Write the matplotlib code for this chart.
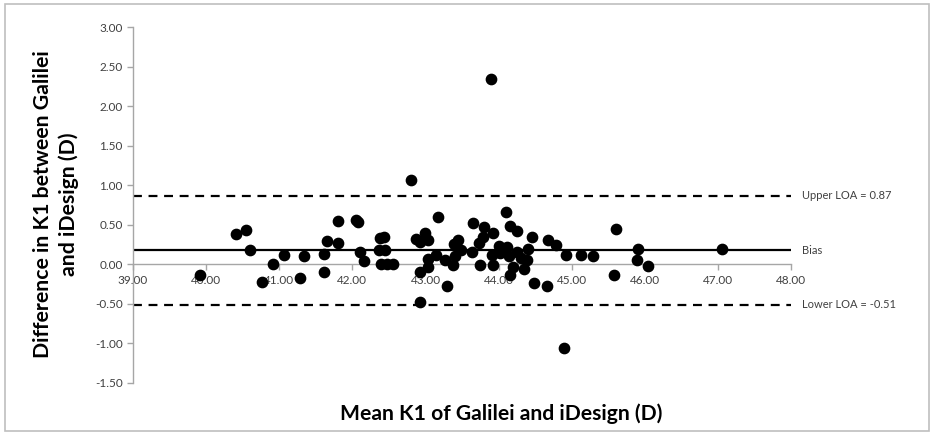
#===============================================================================
#  Imports & Set-Up
#===============================================================================
import numpy as np
import matplotlib; matplotlib.use('Agg')
import matplotlib.pyplot as plt
from matplotlib.patches import Rectangle

plt.rcParams['font.family'] = ['Lato', 'DejaVu Sans']

#===============================================================================
# Data
#===============================================================================
mean_k1 = [39.92, 40.41, 40.54, 40.60, 40.77, 40.92, 41.06, 41.28, 41.34, 41.61,
           41.61, 41.65, 41.81, 41.81, 42.05, 42.07, 42.10, 42.16, 42.38, 42.43,
           42.36, 42.44, 42.39, 42.48, 42.56, 42.80, 42.87, 42.93, 42.99, 43.04,
           42.93, 43.04, 43.03, 42.92, 43.17, 43.15, 43.26, 43.29, 43.38, 43.39,
           43.45, 43.41, 43.49, 43.63, 43.65, 43.74, 43.73, 43.78, 43.80, 43.93,
           43.93, 43.91, 44.01, 44.02, 44.10, 44.11, 44.15, 44.14, 44.16, 44.20,
           44.25, 44.25, 44.30, 44.35, 44.40, 44.39, 44.46, 44.48, 44.66, 44.68,
           44.78, 44.92, 45.12, 45.29, 45.60, 45.58, 45.90, 45.89, 46.04, 47.06,
           43.89, 44.90]
diff_k1 = [-0.14, 0.38, 0.43, 0.18, -0.22, 0.00, 0.12, -0.17, 0.10, 0.13,
           -0.10, 0.29, 0.55, 0.27, 0.56, 0.54, 0.15, 0.04, 0.33, 0.34,
           0.18, 0.18, 0.00, 0.01, 0.01, 1.06, 0.32, 0.28, 0.39, 0.31,
           -0.10, -0.04, 0.07, -0.47, 0.60, 0.12, 0.06, -0.27, -0.01, 0.26,
           0.31, 0.10, 0.18, 0.16, 0.52, -0.01, 0.27, 0.34, 0.47, 0.40,
           -0.01, 0.12, 0.23, 0.14, 0.66, 0.22, 0.49, 0.10, -0.13, -0.03,
           0.42, 0.15, 0.08, -0.06, 0.19, 0.06, 0.34, -0.24, -0.28, 0.31,
           0.24, 0.12, 0.12, 0.11, 0.45, -0.14, 0.19, 0.06, -0.02, 0.19,
           2.34, -1.06]

bias = 0.18
upper_loa = 0.87
lower_loa = -0.51

x_ticks = np.arange(39, 48.01, 1.0)
y_ticks = np.arange(-1.5, 3.01, 0.5)

#===============================================================================
# Plot
#===============================================================================
fig = plt.figure(figsize=(9.31, 4.33), dpi=100)
ax = fig.add_axes([0.1429, 0.1155, 0.7068, 0.8221])

grey = '#a6a6a6'
txt = '#404040'

ax.plot([39, 48], [upper_loa, upper_loa], color='black', lw=1.6, ls=(0, (4, 3)))
ax.plot([39, 48], [lower_loa, lower_loa], color='black', lw=1.6, ls=(0, (4, 3)))
ax.plot([39, 48], [bias, bias], color='black', lw=1.6)
ax.scatter(mean_k1, diff_k1, s=55, color='black', zorder=3, clip_on=False)

ax.set_xlim(39, 48)
ax.set_ylim(-1.5, 3.0)
ax.set_xticks(x_ticks)
ax.set_yticks(y_ticks)
ax.set_xticklabels(['%.2f' % v for v in x_ticks])
ax.set_yticklabels(['%.2f' % v for v in y_ticks])

ax.spines['top'].set_visible(False)
ax.spines['right'].set_visible(False)
ax.spines['bottom'].set_position(('data', 0))
for s in ['left', 'bottom']:
    ax.spines[s].set_color(grey)
    ax.spines[s].set_linewidth(1)
ax.tick_params(axis='both', colors=grey, labelcolor=txt, labelsize=8.5,
               length=4, width=1, direction='out')
ax.tick_params(axis='x', pad=4)

# labels on the right
ax.text(48.15, upper_loa, 'Upper LOA = 0.87', va='center', ha='left',
        fontsize=8, color=txt)
ax.text(48.15, bias, 'Bias', va='center', ha='left', fontsize=8, color=txt)
ax.text(48.15, lower_loa, 'Lower LOA = -0.51', va='center', ha='left',
        fontsize=8, color=txt)

fig.text(0.538, 0.044, 'Mean K1 of Galilei and iDesign (D)', ha='center',
         va='center', fontsize=15.2, fontweight='bold')
fig.text(0.060, 0.529, 'Difference in K1 between Galilei\nand iDesign (D)',
         ha='center', va='center', rotation=90, fontsize=15.3,
         fontweight='bold', linespacing=1.35)

# chart border
fig.patches.append(Rectangle((0.005, 0.005), 0.993, 0.985, transform=fig.transFigure,
                             fill=False, edgecolor='#bfbfbf', lw=1.2))

fig.savefig('out.png', dpi=100)
